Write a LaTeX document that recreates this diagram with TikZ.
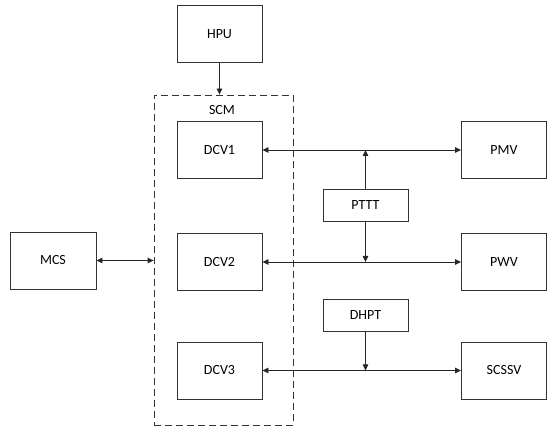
\documentclass[tikz,border=0pt]{standalone}
\usepackage{fontspec}
\setmainfont{Carlito}
\usetikzlibrary{arrows.meta}
\begin{document}
\begin{tikzpicture}[x=1pt,y=-1pt,
  blk/.style={draw=black!80,line width=0.9pt,minimum width=85pt,minimum height=57pt,inner sep=0pt,font=\fontsize{14}{16}\selectfont},
  sblk/.style={draw=black!80,line width=0.9pt,minimum width=85pt,minimum height=32pt,inner sep=0pt,font=\fontsize{14}{16}\selectfont},
  conn/.style={line width=0.8pt,draw=black!85},
  tip/.style={-{Triangle[length=6pt,width=5.5pt]}},
  btip/.style={{Triangle[length=6pt,width=5.5pt]}-{Triangle[length=6pt,width=5.5pt]}}]
\useasboundingbox (0,0) rectangle (550,435);
\node[blk] (hpu) at (219.5,34) {HPU};
\node[draw=black!80,line width=0.8pt,dash pattern=on 7pt off 4pt,minimum width=139pt,minimum height=330pt,inner sep=0pt] (scm) at (223.5,260) {};
\node[font=\fontsize{14}{16}\selectfont] (scml) at (222,110) {SCM};
\node[blk] (dcv1) at (219.5,150) {DCV1};
\node[blk] (dcv2) at (219.5,262) {DCV2};
\node[blk] (dcv3) at (219.5,370.5) {DCV3};
\node[blk] (pmv) at (504,150) {PMV};
\node[blk] (pwv) at (504,262) {PWV};
\node[blk] (scssv) at (504,370.5) {SCSSV};
\node[blk,minimum width=86pt] (mcs) at (53,260.5) {MCS};
\node[sblk] (pttt) at (365.5,205) {PTTT};
\node[sblk] (dhpt) at (365.5,315.5) {DHPT};
\coordinate (mcsend) at (scm.west |- mcs.east);
\draw[conn,tip] (hpu.south) -- (hpu.south |- scm.north);
\draw[conn,btip] (dcv1.east) -- (pmv.west);
\draw[conn,btip] (dcv2.east) -- (pwv.west);
\draw[conn,btip] (dcv3.east) -- (scssv.west);
\draw[conn,btip] (mcs.east) -- (mcsend);
\draw[conn,tip] (pttt.north) -- (pttt.north |- dcv1.east);
\draw[conn,tip] (pttt.south) -- (pttt.south |- dcv2.east);
\draw[conn,tip] (dhpt.south) -- (dhpt.south |- dcv3.east);
\end{tikzpicture}
\end{document}
